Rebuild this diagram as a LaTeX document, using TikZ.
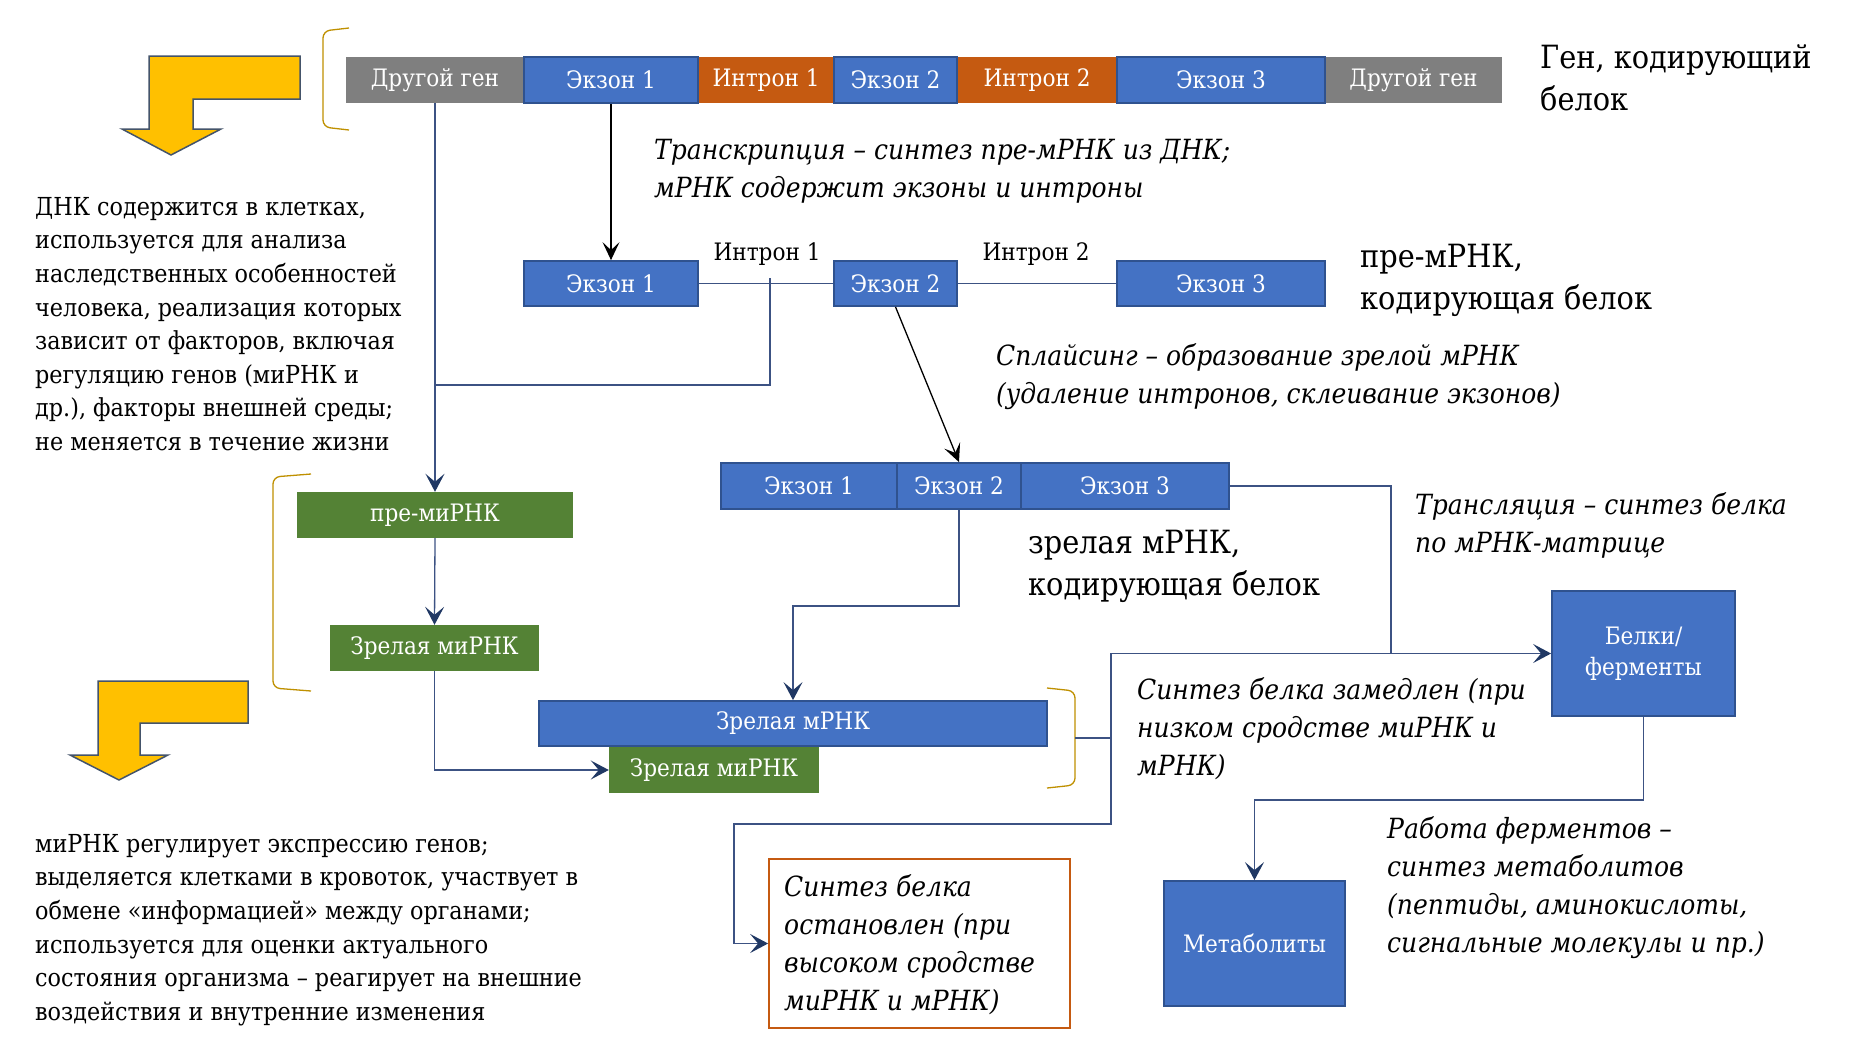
\documentclass[tikz,border=0pt]{standalone}
\usepackage{fontspec}
\setmainfont{DejaVu Serif Condensed}
\usetikzlibrary{arrows.meta}
\definecolor{bblue}{HTML}{4472C4}
\definecolor{bbord}{HTML}{2F528F}
\definecolor{bgray}{HTML}{7F7F7F}
\definecolor{borange}{HTML}{C55A11}
\definecolor{bgreen}{HTML}{548235}
\definecolor{bgold}{HTML}{BF9000}
\definecolor{linecol}{HTML}{3C5283}
\definecolor{navy}{HTML}{203864}
\definecolor{ayellow}{HTML}{FFC000}
\definecolor{aborder}{HTML}{44546A}
\newcommand{\mybox}[7]{\node[#6, minimum width={#4-#2}, minimum height={#5-#3}] (#1) at ({(#2+#4)/2},{(#3+#5)/2}) {#7};}
\tikzset{
  boxbase/.style={inner sep=0pt, text=white, font=\fontsize{24}{31}\selectfont, align=center},
  bluebox/.style={boxbase, fill=bblue, draw=bbord, line width=1.8pt},
  graybox/.style={boxbase, fill=bgray},
  orangebox/.style={boxbase, fill=borange},
  greenbox/.style={boxbase, fill=bgreen},
  conn/.style={draw=linecol, line width=1.3pt},
  navyarrow/.style={-{Stealth[length=18pt,width=19pt,inset=8pt,fill=navy,color=navy]}},
  blackarrow/.style={draw=black, line width=1.3pt, -{Stealth[length=18pt,width=17pt,inset=8pt]}},
  bigtxt/.style={font=\fontsize{32}{42}\selectfont, align=left, anchor=west, inner sep=0pt},
  ittxt/.style={font=\fontsize{27.8}{38}\selectfont\itshape, align=left, anchor=west, inner sep=0pt},
  bodytxt/.style={font=\fontsize{24.8}{33.6}\selectfont, align=left, anchor=west, inner sep=0pt},
  brk/.style={draw=bgold, line width=1.3pt, rounded corners=7pt},
  yarrow/.style={fill=ayellow, draw=aborder, line width=1.5pt}
}
\begin{document}
\begin{tikzpicture}[x=1pt,y=-1pt]
\useasboundingbox (0,0) rectangle (1853,1047);
\fill[white] (0,0) rectangle (1853,1047);

% yellow arrows
\draw[yarrow] (149,56) -- (300,56) -- (300,99) -- (193,99) -- (193,129) -- (221,129) -- (171,155) -- (122,129) -- (149,129) -- cycle;
\draw[yarrow] (98,681) -- (248,681) -- (248,723) -- (140,723) -- (140,755) -- (168,755) -- (119,780) -- (70,755) -- (98,755) -- cycle;

% brackets
\draw[brk] (349,28) -- (323,31) -- (323,127) -- (349,130);
\draw[brk] (311,474) -- (273,477) -- (273,688) -- (311,691);
\draw[brk] (1047,688) -- (1075,691) -- (1075,785) -- (1047,788);

% top row (gene)
\mybox{g1}{346}{57}{524}{103}{graybox}{Другой ген}
\mybox{g7}{1325}{57}{1502}{103}{graybox}{Другой ген}
\mybox{i1}{698}{57}{834}{103}{orangebox}{Интрон 1}
\mybox{i2}{957}{57}{1117}{103}{orangebox}{Интрон 2}
\mybox{e1}{524}{57}{698}{103}{bluebox}{Экзон 1}
\mybox{e2}{834}{57}{957}{103}{bluebox}{Экзон 2}
\mybox{e3}{1117}{57}{1325}{103}{bluebox}{Экзон 3}

% pre-mRNA row
\mybox{pe1}{524}{261}{698}{306}{bluebox}{Экзон 1}
\mybox{pe2}{834}{261}{957}{306}{bluebox}{Экзон 2}
\mybox{pe3}{1117}{261}{1325}{306}{bluebox}{Экзон 3}
\node[font=\fontsize{24}{31}\selectfont, inner sep=0pt] (il1) at (767,254) {Интрон 1};
\node[font=\fontsize{24}{31}\selectfont, inner sep=0pt] (il2) at (1036,254) {Интрон 2};

% mature mRNA row
\mybox{me1}{721}{463}{897}{509}{bluebox}{Экзон 1}
\mybox{me2}{897}{463}{1021}{509}{bluebox}{Экзон 2}
\mybox{me3}{1021}{463}{1229}{509}{bluebox}{Экзон 3}

% miRNA
\mybox{pm}{297}{492}{573}{538}{greenbox}{пре-миРНК}
\mybox{zm1}{330}{625}{539}{671}{greenbox}{Зрелая миРНК}
\mybox{mm}{539}{701}{1047}{746}{bluebox}{Зрелая мРНК}
\mybox{mi2}{609}{747}{819}{793}{greenbox}{Зрелая миРНК}

% proteins / metabolites
\mybox{bel}{1552}{591}{1735}{716}{bluebox}{Белки/\\ферменты}
\mybox{met}{1164}{881}{1345}{1006}{bluebox}{Метаболиты}
\node[draw=borange, line width=1.8pt, minimum width=301, minimum height=169, inner sep=0pt] (ost) at (919.5,943.5) {};
\node[ittxt] (osttxt) at (784,945) {Синтез белка\\остановлен (при\\высоком сродстве\\миРНК и мРНК)};

% connectors
\draw[conn, navyarrow] (g1.south) -- (pm.north);
\draw[conn] (pe1.east) -- (pe2.west);
\draw[conn] (pe2.east) -- (pe3.west);
\coordinate (i1top) at (770,278);
\coordinate (j1) at (435,385);
\draw[conn] (i1top) -- (770,385) -- (j1);
\draw[blackarrow] (e1.south) -- (pe1.north);
\draw[blackarrow] (pe2.south) -- (me2.north);
\draw[conn, navyarrow] (pm.south) -- (zm1.north);
\draw[conn, navyarrow] (zm1.south) |- (mi2.west);
\draw[conn, navyarrow] (me2.south) -- ++(0,96) -| (mm.north);
\coordinate (bm) at (1075,738);
\coordinate (j2) at (1111,738);
\draw[conn] (bm) -- (j2);
\draw[conn, navyarrow] (j2) |- (bel.west);
\draw[conn] (me3.east) -| (1391,654);
\draw[conn, navyarrow] (j2) -- (1111,824) -- (734,824) |- (ost.west);
\draw[conn, navyarrow] (bel.south) -- ++(0,83) -| (met.north);

% texts
\node[bigtxt] (t1) at (1540,78) {Ген, кодирующий\\белок};
\node[bigtxt] (t2) at (1360,280) {пре-мРНК,\\кодирующая белок};
\node[bigtxt] (t3) at (1028,566) {зрелая мРНК,\\кодирующая белок};
\node[ittxt] (t4) at (654,171) {Транскрипция – синтез пре-мРНК из ДНК;\\мРНК содержит экзоны и интроны};
\node[ittxt] (t5) at (996,377) {Сплайсинг – образование зрелой мРНК\\(удаление интронов, склеивание экзонов)};
\node[ittxt] (t6) at (1415,525) {Трансляция – синтез белка\\по мРНК-матрице};
\node[ittxt] (t7) at (1137,729) {Синтез белка замедлен (при\\низком сродстве миРНК и\\мРНК)};
\node[ittxt] (t8) at (1387,888) {Работа ферментов –\\синтез метаболитов\\(пептиды, аминокислоты,\\сигнальные молекулы и пр.)};
\node[bodytxt] (t9) at (35,324) {ДНК содержится в клетках,\\используется для анализа\\наследственных особенностей\\человека, реализация которых\\зависит от факторов, включая\\регуляцию генов (миРНК и\\др.), факторы внешней среды;\\не меняется в течение жизни};
\node[bodytxt] (t10) at (35,930) {миРНК регулирует экспрессию генов;\\выделяется клетками в кровоток, участвует в\\обмене «информацией» между органами;\\используется для оценки актуального\\состояния организма – реагирует на внешние\\воздействия и внутренние изменения};
\end{tikzpicture}
\end{document}
